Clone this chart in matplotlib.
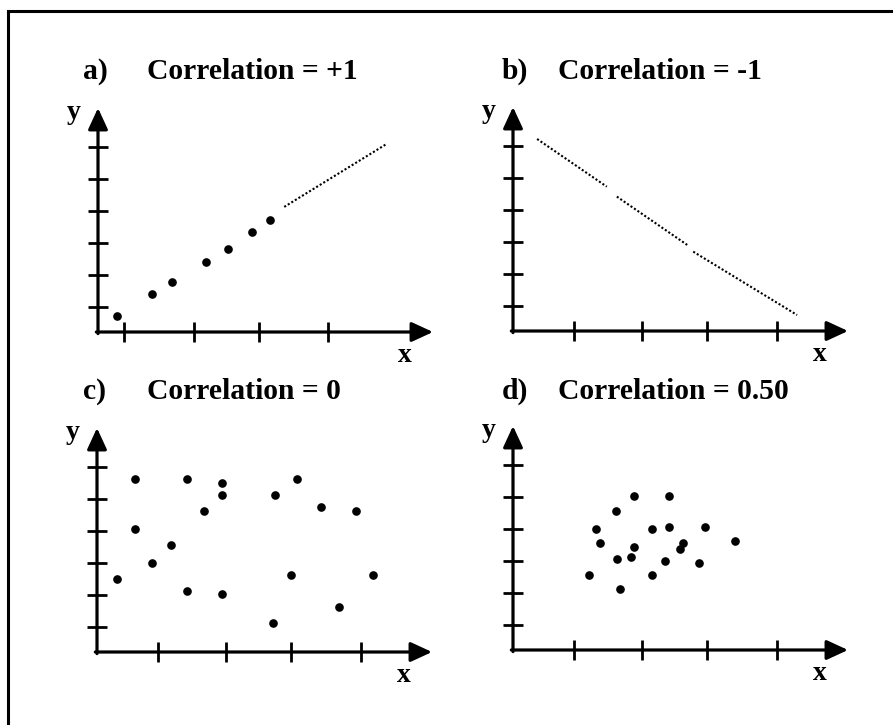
import matplotlib.pyplot as plt
from matplotlib.patches import Rectangle

plt.rcParams['font.family'] = ['Liberation Serif', 'DejaVu Serif']

# Tick positions in axis units (one x unit ~ one tick step)
x_ticks_a = [0.39, 1.43, 2.40, 3.43]
x_ticks = [0.91, 1.93, 2.90, 3.94]
y_ticks = [0.77, 1.77, 2.77, 3.77, 4.77, 5.77]

# a) Correlation = +1 : dots, then a dotted run
a_x = [0.29, 0.81, 1.10, 1.61, 1.94, 2.30, 2.56]
a_y = [0.50, 1.19, 1.55, 2.19, 2.59, 3.12, 3.49]
a_line_x = [2.78, 4.31]
a_line_y = [3.91, 5.88]

# b) Correlation = -1 : dotted line with two small breaks
b_seg_x = [[0.36, 1.40], [1.55, 2.60], [2.69, 4.24]]
b_seg_y = [[6.00, 4.51], [4.20, 2.69], [2.48, 0.50]]

# c) Correlation = 0
c_x = [0.57, 0.57, 0.30, 0.82, 1.11, 1.34, 1.34, 1.60, 1.86, 1.86,
       1.86, 2.66, 2.63, 2.89, 2.99, 3.35, 3.61, 3.86, 4.12]
c_y = [5.40, 3.85, 2.29, 2.79, 3.34, 5.40, 1.91, 4.41, 5.28, 4.91,
       1.80, 4.91, 0.91, 2.42, 5.40, 4.52, 1.42, 4.41, 2.42]

# d) Correlation = 0.50
d_x = [1.13, 1.24, 1.30, 1.53, 1.55, 1.60, 1.76, 1.81, 1.81, 2.07,
       2.07, 2.27, 2.33, 2.33, 2.49, 2.53, 2.77, 2.86, 3.32]
d_y = [2.33, 3.77, 3.33, 4.33, 2.83, 1.90, 2.90, 4.82, 3.22, 3.77,
       2.33, 2.77, 4.82, 3.83, 3.15, 3.33, 2.71, 3.83, 3.40]

letters = ['a)', 'b)', 'c)', 'd)']
titles = ['Correlation = +1', 'Correlation = -1', 'Correlation = 0', 'Correlation = 0.50']

W, H = 893, 725
XMAX, YMAX = 5.0, 7.0
UX, UY = 67, 32  # pixels per unit
origins = [(98, 332), (513, 331), (97, 652), (513, 650)]
title_pos = [(83, 147, 79), (502, 558, 79), (83, 147, 399), (502, 558, 399)]

fig = plt.figure(figsize=(W / 100, H / 100), dpi=100)

# page frame (only top and left edges fall inside the picture)
fig.add_artist(Rectangle((7.5 / W, -0.1), 1.2, 1 - 11 / H + 0.1, transform=fig.transFigure,
                         fill=False, lw=2.2, ec='black', clip_on=False))


def make_panel(ox, oy, xt):
    ax = fig.add_axes([ox / W, 1 - oy / H, XMAX * UX / W, YMAX * UY / H])
    ax.set_xlim(0, XMAX)
    ax.set_ylim(0, YMAX)
    ax.axis('off')
    arrow = dict(arrowstyle='-|>,head_length=0.65,head_width=0.3', mutation_scale=20,
                 lw=2.3, color='black', shrinkA=0, shrinkB=0)
    ax.annotate('', xy=(XMAX, 0), xytext=(-0.025, 0), arrowprops=arrow, annotation_clip=False)
    ax.annotate('', xy=(0, YMAX), xytext=(0, -0.05), arrowprops=arrow, annotation_clip=False)
    ax.plot(xt, [0] * len(xt), ls='none', marker='|', ms=14, mew=2.0, color='black', clip_on=False)
    ax.plot([0] * len(y_ticks), y_ticks, ls='none', marker='_', ms=14, mew=2.0, color='black', clip_on=False)
    ax.text(-0.36, 6.85, 'y', fontsize=20, fontweight='bold', ha='center', va='center')
    ax.text(4.58, -0.74, 'x', fontsize=20, fontweight='bold', ha='center', va='center')
    return ax


axes = []
for i, (ox, oy) in enumerate(origins):
    axes.append(make_panel(ox, oy, x_ticks_a if i == 0 else x_ticks))
    lx, tx, by = title_pos[i]
    fig.text(lx / W, 1 - by / H, letters[i], fontsize=21.3, fontweight='bold', va='baseline')
    fig.text(tx / W, 1 - by / H, titles[i], fontsize=21.3, fontweight='bold', va='baseline')

dot = dict(ls='none', marker='o', ms=5.2, color='black')
line = dict(color='black', lw=1.5, ls=(0, (1, 1)))

axes[0].plot(a_x, a_y, **dot)
axes[0].plot(a_line_x, a_line_y, **line)
for sx, sy in zip(b_seg_x, b_seg_y):
    axes[1].plot(sx, sy, **line)
axes[2].plot(c_x, c_y, **dot)
axes[3].plot(d_x, d_y, **dot)

fig.savefig('out.png', dpi=100)
